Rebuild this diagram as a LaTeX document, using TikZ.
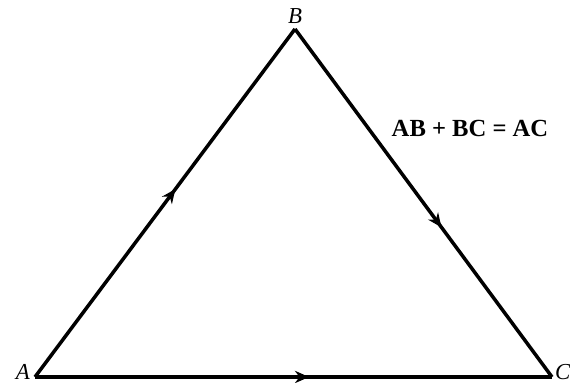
\documentclass[tikz,border=0pt]{standalone}
\usepackage{fontspec}
\setmainfont{Liberation Serif}
\usetikzlibrary{decorations.markings,arrows.meta}

\tikzset{
  side/.style={line width=2pt, line join=miter,
    postaction={decorate, decoration={markings,
      mark=at position #1 with {\arrow{Stealth[length=8pt,width=7pt]}}}}},
  vlabel/.style={font=\fontsize{13}{15}\selectfont\itshape, inner sep=0.5pt}
}

\begin{document}
\begin{tikzpicture}
\useasboundingbox (0,0) rectangle (11.4,7.66);

% vertices
\coordinate (A) at (0.70,0.12);
\coordinate (B) at (5.90,7.08);
\coordinate (C) at (11.04,0.12);

% sides of the triangle
\draw[side=0.54] (A) -- (B);
\draw[side=0.57] (B) -- (C);
\draw[side=0.53] (A) -- (C);

% vertex labels
\node[vlabel, anchor=south east] (lA) at (0.62,0.04) {A};
\node[vlabel, anchor=south] (lB) at (5.90,7.16) {B};
\node[vlabel, anchor=south west] (lC) at (11.08,0.04) {C};

% relation
\node[font=\fontsize{14}{16}\selectfont\bfseries] (rel) at (9.40,5.10) {AB + BC = AC};

\end{tikzpicture}
\end{document}
